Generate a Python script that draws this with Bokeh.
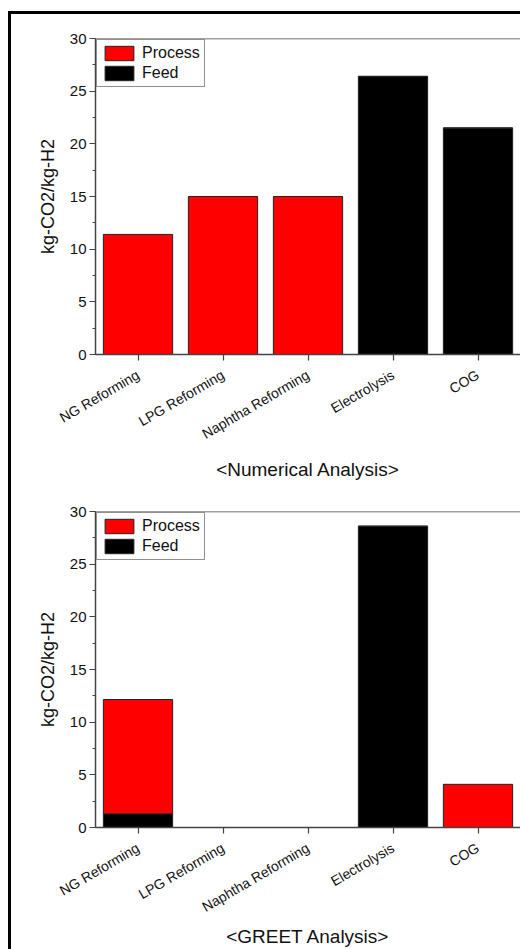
from bokeh.plotting import figure
from bokeh.models import (FactorRange, Range1d, SingleIntervalTicker, Legend, LegendItem, Span)
from bokeh.layouts import column
from bokeh.embed import file_html
from bokeh.resources import INLINE

categories = ["NG Reforming", "LPG Reforming", "Naphtha Reforming", "Electrolysis", "COG"]

num_process = [11.4, 15.0, 15.0, 0.0, 0.0]
num_feed = [0.0, 0.0, 0.0, 26.4, 21.5]

greet_process = [10.85, 0.0, 0.0, 0.0, 4.1]
greet_feed = [1.3, 0.0, 0.0, 28.6, 0.0]

y_label = "kg-CO2/kg-H2"
titles = ["<Numerical Analysis>", "<GREET Analysis>"]

FONT = "Liberation Sans"
AX = "#444444"


def make_chart(process, feed, xtitle, height, bottom, title_standoff):
    p = figure(x_range=FactorRange(*categories), y_range=Range1d(0, 30),
               width=509, height=height, output_backend="svg", toolbar_location=None,
               min_border_left=84, min_border_right=0, min_border_top=24,
               min_border_bottom=bottom)
    p.outline_line_color = None
    p.xgrid.visible = False
    p.ygrid.visible = False
    data = {"cat": categories, "Process": process, "Feed": feed}
    rs = p.vbar_stack(["Feed", "Process"], x="cat", width=0.815, source=data,
                      fill_color=["#000000", "#ff0000"], line_color="#222222", line_width=1)
    p.add_layout(Span(location=30, dimension="width", line_color=AX, line_width=1.5))

    leg = Legend(items=[LegendItem(label="Process", renderers=[rs[1]]),
                        LegendItem(label="Feed", renderers=[rs[0]])],
                 location="top_left")
    leg.margin = 1
    leg.padding = 4
    leg.spacing = 2
    leg.glyph_width = 36
    leg.glyph_height = 18
    leg.label_height = 18
    leg.label_standoff = 5
    leg.label_text_font = FONT
    leg.label_text_font_size = "16px"
    leg.label_text_color = "#111111"
    leg.border_line_color = "#222222"
    leg.border_line_width = 1.2
    leg.background_fill_alpha = 1
    p.add_layout(leg)

    ya = p.yaxis[0]
    ya.ticker = SingleIntervalTicker(interval=5, num_minor_ticks=2)
    ya.axis_label = y_label
    ya.axis_label_text_font = FONT
    ya.axis_label_text_font_size = "18px"
    ya.axis_label_text_font_style = "normal"
    ya.axis_label_text_color = "#111111"
    ya.axis_label_standoff = 9
    ya.major_label_text_font = FONT
    ya.major_label_text_font_size = "15px"
    ya.major_label_text_color = "#111111"
    ya.major_label_standoff = 3
    ya.axis_line_color = AX
    ya.axis_line_width = 1.5
    ya.major_tick_line_color = AX
    ya.major_tick_line_width = 1.2
    ya.minor_tick_line_color = AX
    ya.minor_tick_line_width = 1.2
    ya.major_tick_in = 0
    ya.major_tick_out = 6
    ya.minor_tick_in = 0
    ya.minor_tick_out = 3

    xa = p.xaxis[0]
    xa.axis_label = xtitle
    xa.axis_label_text_font = FONT
    xa.axis_label_text_font_size = "19px"
    xa.axis_label_text_font_style = "normal"
    xa.axis_label_text_color = "#111111"
    xa.axis_label_standoff = title_standoff
    xa.major_label_orientation = 0.53
    xa.major_label_text_font = FONT
    xa.major_label_text_font_size = "14px"
    xa.major_label_text_color = "#111111"
    xa.major_label_standoff = 13
    xa.axis_line_color = AX
    xa.axis_line_width = 1.5
    xa.major_tick_line_color = AX
    xa.major_tick_line_width = 1.2
    xa.major_tick_in = 0
    xa.major_tick_out = 6
    return p


p1 = make_chart(num_process, num_feed, titles[0], 473, 133, 7)
p2 = make_chart(greet_process, greet_feed, titles[1], 462, 122, 1)

layout = column(p1, p2, styles={"border-left": "3px solid black",
                                "border-top": "3px solid black",
                                "margin-top": "11px",
                                "margin-left": "8px"})

open("out.html", "w").write(file_html(layout, INLINE))
